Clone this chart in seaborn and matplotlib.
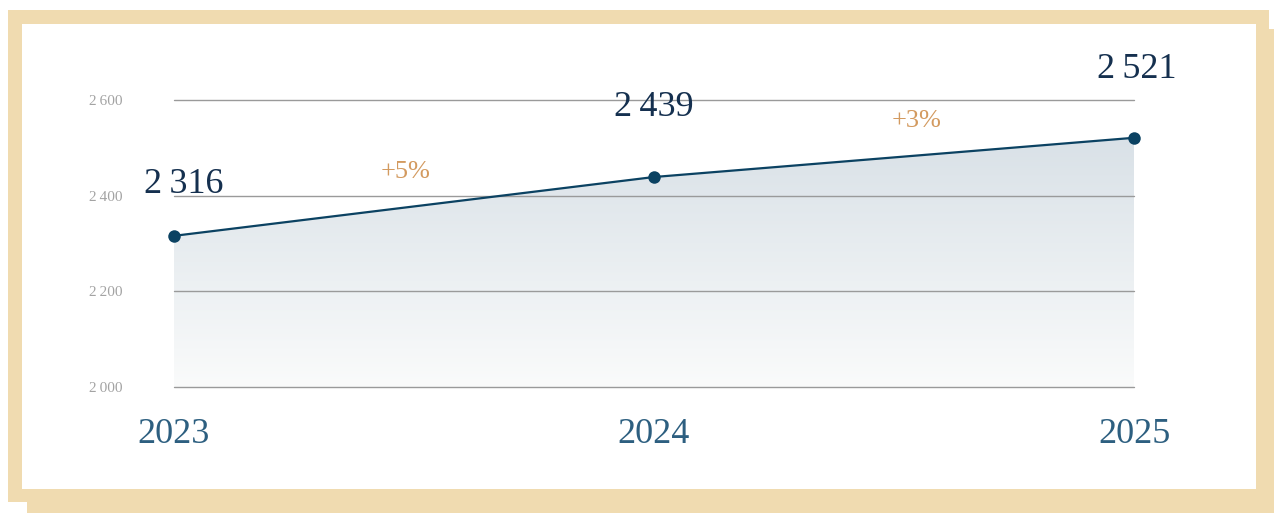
import numpy as np
import pandas as pd
import seaborn as sns
import matplotlib.pyplot as plt
from matplotlib.colors import LinearSegmentedColormap
from matplotlib.patches import Rectangle


YEARS = ['2023', '2024', '2025']
VALUES = [2316, 2439, 2521]
VALUE_LABELS = ['2\u2009316', '2\u2009439', '2\u2009521']
CHANGE_LABELS = ['+5%', '+3%']
Y_TICKS = [2000, 2200, 2400, 2600]
Y_TICK_LABELS = ['2\u2009000', '2\u2009200', '2\u2009400', '2\u2009600']

BEIGE = '#f0dbb0'
LINE = '#0b4262'
VALUE_COLOR = '#15304f'
YEAR_COLOR = '#2d5f80'
CHANGE_COLOR = '#d39a5f'
FONTS = ['Liberation Serif', 'DejaVu Serif']


def main():
    sns.set_theme(style='white')
    plt.rcParams['font.family'] = FONTS
    W, H = 1274, 513
    fig = plt.figure(figsize=(W / 100, H / 100), dpi=100, facecolor='white')

    # frame: shadow, beige border, white panel (pixels from top-left)
    def rect(x0, y0, x1, y1, color, z):
        fig.patches.append(Rectangle((x0 / W, 1 - y1 / H), (x1 - x0) / W,
                                     (y1 - y0) / H, transform=fig.transFigure,
                                     facecolor=color, edgecolor='none',
                                     zorder=z))
    rect(27, 29, 1295, 530, BEIGE, -3)
    rect(8, 10, 1269, 502, BEIGE, -2)
    rect(22, 24, 1256, 489, 'white', -1)

    ax = fig.add_axes([174 / W, 1 - 387 / H, 960 / W, 287 / H])
    ax.set_facecolor('none')
    ax.set_zorder(1)
    df = pd.DataFrame({'pos': range(len(YEARS)), 'value': VALUES})

    # gradient fill under the line
    ymin, ymax = Y_TICKS[0], max(VALUES)
    cmap = LinearSegmentedColormap.from_list('fill', ['#fafbfb', '#d9e1e7'])
    grad = np.linspace(0, 1, 256).reshape(-1, 1)
    img = ax.imshow(grad, cmap=cmap, origin='lower', aspect='auto',
                    extent=[0, len(YEARS) - 1, ymin, ymax], zorder=1)
    poly = ax.fill_between(df['pos'], df['value'], ymin, color='none',
                           zorder=1)
    img.set_clip_path(poly.get_paths()[0], transform=ax.transData)

    sns.lineplot(data=df, x='pos', y='value', ax=ax, color=LINE,
                 linewidth=1.6, marker='o', markersize=9,
                 markeredgewidth=0, zorder=3, clip_on=False)

    ax.set_xlim(0, len(YEARS) - 1)
    ax.set_ylim(Y_TICKS[0], Y_TICKS[-1])
    ax.set_xticks(df['pos'], YEARS)
    ax.set_yticks(Y_TICKS, Y_TICK_LABELS)
    ax.tick_params(axis='x', length=0, pad=22, labelsize=26,
                   labelcolor=YEAR_COLOR)
    ax.tick_params(axis='y', length=0, pad=37, labelsize=11,
                   labelcolor='#a3a3a3')
    for lab in ax.get_yticklabels():
        lab.set_horizontalalignment('right')
    ax.set_xlabel('')
    ax.set_ylabel('')
    ax.set_axisbelow(False)
    ax.yaxis.grid(True, color='#9a9a9a', linewidth=1)
    ax.xaxis.grid(False)
    for gl in ax.get_ygridlines():
        gl.set_clip_on(False)
    sns.despine(ax=ax, left=True, bottom=True)

    # value labels above the points
    value_offsets = [(10, 43), (0, 61), (3, 60)]
    for i, (v, lab) in enumerate(zip(VALUES, VALUE_LABELS)):
        ax.annotate(lab, (i, v), xytext=value_offsets[i],
                    textcoords='offset pixels', ha='center', va='baseline',
                    fontsize=26, color=VALUE_COLOR, annotation_clip=False)

    # growth labels between points
    change_offsets = [(-8, 28), (23, 30)]
    for i, lab in enumerate(CHANGE_LABELS):
        mid = (i + 0.5, (VALUES[i] + VALUES[i + 1]) / 2)
        ax.annotate(lab, mid, xytext=change_offsets[i],
                    textcoords='offset pixels', ha='center', va='baseline',
                    fontsize=19, color=CHANGE_COLOR, annotation_clip=False)

    fig.savefig('out.png', dpi=100)


if __name__ == '__main__':
    main()
